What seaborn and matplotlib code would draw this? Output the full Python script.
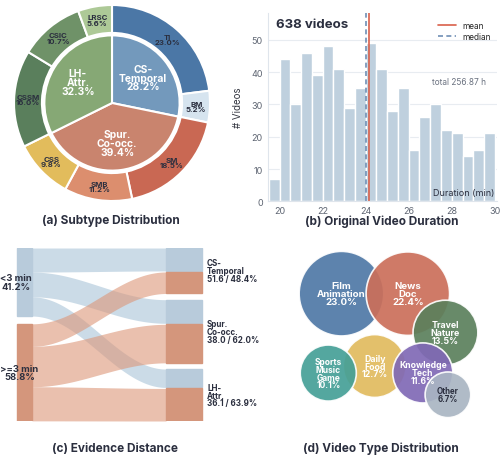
import numpy as np
import pandas as pd
import matplotlib
matplotlib.use("Agg")
import matplotlib.pyplot as plt
from matplotlib.patches import Circle, Rectangle
import seaborn as sns

# (a) subtype distribution
group_names = ["CS-\nTemporal", "Spur.\nCo-occ.", "LH-\nAttr."]
group_share = [28.2, 39.4, 32.3]
subtype_names = ["TI", "BM", "SM", "SMB", "CSS", "CSSM", "CSIC", "LRSC"]
subtype_share = [23.0, 5.2, 18.5, 11.2, 9.8, 16.0, 10.7, 5.6]

# (b) original video duration (minutes, 0.5 min bins from 19.5 to 30)
bin_start = 19.5
bin_width = 0.5
bin_counts = [7, 44, 30, 46, 39, 48, 41, 29, 35, 49, 41, 28, 35, 16, 26, 30, 22, 21, 14, 16, 21]
mean_dur = 24.16
median_dur = 24.0
total_hours = 256.87

# (c) evidence distance
dist_names = ["<3 min", ">=3 min"]
dist_share = [41.2, 58.8]
target_names = ["CS-\nTemporal", "Spur.\nCo-occ.", "LH-\nAttr."]
target_share = [28.2, 39.4, 32.3]
short_pct = [51.6, 38.0, 36.1]
long_pct = [48.4, 62.0, 63.9]

# (d) video types
type_names = ["Film\nAnimation", "News\nDoc", "Travel\nNature", "Daily\nFood",
              "Sports\nMusic\nGame", "Knowledge\nTech", "Other"]
type_share = [23.0, 22.4, 13.5, 12.7, 10.1, 11.6, 6.7]

sns.set_theme(style="white")
plt.rcParams["font.family"] = ["Inter", "DejaVu Sans"]
DARK = "#2b2f3f"

fig = plt.figure(figsize=(5, 4.56), dpi=100)


def box(x0, y0, x1, y1):
    return [x0 / 500, 1 - y1 / 456, (x1 - x0) / 500, (y1 - y0) / 456]


def title(x, y, s):
    fig.text(x / 500, 1 - y / 456, s, ha="center", va="center",
             fontsize=8.5, fontweight="bold", color=DARK)


# ---------- (a) ----------
ax = fig.add_axes(box(12, 4, 212, 204))
outer_cols = ["#4b77a6", "#d6e4ef", "#c96853", "#dc8e6e", "#e2bc5c",
              "#5a7f5c", "#6f9268", "#adc997"]
inner_cols = ["#7399bc", "#c9846e", "#86a875"]
ax.pie(subtype_share, radius=1.0, startangle=90, counterclock=False, colors=outer_cols,
       wedgeprops=dict(width=0.285, edgecolor="white", linewidth=1.5))
ax.pie(group_share, radius=0.69, startangle=90, counterclock=False, colors=inner_cols,
       wedgeprops=dict(edgecolor="white", linewidth=1.5))

cum = np.cumsum(subtype_share)
tot = cum[-1]
for name, v, c in zip(subtype_names, subtype_share, cum):
    th = np.deg2rad(90 - 360 * (c - v / 2) / tot)
    ax.text(0.86 * np.cos(th), 0.86 * np.sin(th), f"{name}\n{v:.1f}%", ha="center",
            va="center", fontsize=5.6, fontweight="bold", color=DARK, linespacing=0.85)
cum = np.cumsum(group_share)
tot = cum[-1]
for name, v, c in zip(group_names, group_share, cum):
    th = np.deg2rad(90 - 360 * (c - v / 2) / tot)
    ax.text(0.41 * np.cos(th), 0.41 * np.sin(th), f"{name}\n{v:.1f}%", ha="center",
            va="center", fontsize=7.4, fontweight="bold", color="white", linespacing=0.85)
ax.set_xlim(-100 / 98, 100 / 98)
ax.set_ylim(-100 / 98, 100 / 98)
ax.set_aspect("equal")
ax.axis("off")
title(110.5, 220.7, "(a) Subtype Distribution")

# ---------- (b) ----------
ax = fig.add_axes(box(267.7, 14, 497, 202.3))
ax.grid(axis="y", color="#e8ecf1", linewidth=0.8)
ax.set_axisbelow(True)
centers = bin_start + bin_width * (np.arange(len(bin_counts)) + 0.5)
hist_df = pd.DataFrame({"duration": centers, "videos": bin_counts})
sns.histplot(data=hist_df, x="duration", weights="videos", binwidth=bin_width,
             binrange=(bin_start, bin_start + bin_width * len(bin_counts)), color="#bfd0de",
             alpha=1, edgecolor="white", linewidth=1, ax=ax)
ax.axvline(median_dur, color="#6f8fb5", linewidth=1.2, linestyle=(0, (3, 2)), label="median")
ax.axvline(mean_dur, color="#d9604a", linewidth=1.2, label="mean")
h, l = ax.get_legend_handles_labels()
ax.legend(h[::-1], l[::-1], loc="upper right", frameon=False, fontsize=6,
          handlelength=2.2, borderaxespad=0.3, labelspacing=0.3, bbox_to_anchor=(1.0, 0.99))
ax.set_xlim(19.45, 30.1)
ax.set_ylim(0, 58.3)
ax.set_xticks(range(20, 31, 2))
ax.set_yticks(range(0, 51, 10))
ax.tick_params(labelsize=6.5, colors="#5f6673", length=2.5, width=0.8, pad=1)
ax.tick_params(color="#c9d2dc")
for s in ["top", "right"]:
    ax.spines[s].set_visible(False)
for s in ["left", "bottom"]:
    ax.spines[s].set_color("#dfe5ec")
    ax.spines[s].set_linewidth(0.8)
ax.set_xlabel("")
ax.set_ylabel("# Videos", fontsize=7, color="#333640", labelpad=6)
ax.text(19.85, 54.9, f"{sum(bin_counts)} videos", fontsize=9.5, fontweight="bold",
        color=DARK, ha="left", va="center")
ax.text(29.6, 37.2, f"total {total_hours:.2f} h", fontsize=6, color="#6b7280",
        ha="right", va="center")
ax.text(29.98, 2.7, "Duration (min)", fontsize=6.5, color=DARK, ha="right", va="center")
title(381.7, 221.5, "(b) Original Video Duration")

# ---------- (c) ----------
ax = fig.add_axes(box(0, 249, 250, 422))
ax.set_xlim(0, 250)
ax.set_ylim(422, 249)
ax.axis("off")
node_blue, node_org = "#b8cbdb", "#d4967c"
flow_blue, flow_org = "#a9c4d8", "#dc9678"
lx0, lx1, rx0, rx1 = 17, 32, 166, 202
span = 173
gap_l, gap_r, sub_gap = 7.7, 6.2, 1.0
sc_l = (span - gap_l) / sum(dist_share)
sc_r = (span - 2 * gap_r - 3 * sub_gap) / sum(target_share)

# left nodes
left_top = []
y = 249
for name, v, col in zip(dist_names, dist_share, [node_blue, node_org]):
    h_ = v * sc_l
    ax.add_patch(Rectangle((lx0, y), lx1 - lx0, h_, color=col, zorder=3))
    left_top.append(y)
    ax.text(0.5, y + h_ / 2, f"{name}\n{v:.1f}%", ha="left", va="center", fontsize=6.8,
            multialignment="center", fontweight="bold", color=DARK, linespacing=0.9,
            zorder=4)
    y += h_ + gap_l

# right nodes
right_parts = []
y = 249
for name, v, a, b in zip(target_names, target_share, short_pct, long_pct):
    hb = v * a / 100 * sc_r
    ho = v * b / 100 * sc_r
    ax.add_patch(Rectangle((rx0, y), rx1 - rx0, hb, color=node_blue, zorder=3))
    ax.add_patch(Rectangle((rx0, y + hb + sub_gap), rx1 - rx0, ho, color=node_org, zorder=3))
    right_parts.append((y, y + hb + sub_gap))
    ax.text(207, y + (hb + ho + sub_gap) / 2, f"{name}\n{a:.1f} / {b:.1f}%", ha="left",
            va="center", fontsize=5.8, fontweight="bold", color=DARK, linespacing=0.85)
    y += hb + ho + sub_gap + gap_r

xs = np.linspace(lx1, rx0, 120)
s = (1 - np.cos(np.pi * (xs - lx1) / (rx0 - lx1))) / 2
for k, (pcts, col) in enumerate([(short_pct, flow_blue), (long_pct, flow_org)]):
    yl = left_top[k]
    for j, (v, p) in enumerate(zip(target_share, pcts)):
        f = v * p / 100
        yr = right_parts[j][k]
        top = yl + (yr - yl) * s
        bot = (yl + f * sc_l) + ((yr + f * sc_r) - (yl + f * sc_l)) * s
        ax.fill_between(xs, top, bot, color=col, alpha=0.6, linewidth=0, zorder=2)
        yl += f * sc_l
title(114.5, 449, "(c) Evidence Distance")

# ---------- (d) ----------
ax = fig.add_axes(box(277, 235, 500, 436))
type_cols = ["#4f78a6", "#cb6f5a", "#5b805c", "#e1bb5e", "#45a097", "#8069b6", "#a9b5c3"]
radii = [42.3 * np.sqrt(v / max(type_share)) for v in type_share]
# layout: (anchor bubble, direction in degrees, centre distance / radius sum)
layout = [(None, 0, 0), (0, 0, 0.79), (1, -46, 0.73), (0, -65.3, 1.08),
          (3, 188.6, 0.79), (3, -8.2, 0.79), (5, -41, 0.63)]
centres = []
for i, (a, ang, f) in enumerate(layout):
    if a is None:
        centres.append((0.0, 0.0))
        continue
    d = f * (radii[a] + radii[i])
    t = np.deg2rad(ang)
    centres.append((centres[a][0] + d * np.cos(t), centres[a][1] + d * np.sin(t)))
for (cx, cy), r, col, name, v in zip(centres, radii, type_cols, type_names, type_share):
    ax.add_patch(Circle((cx, cy), r, facecolor=col, edgecolor="white", linewidth=1.2,
                        alpha=0.92))
    tc = DARK if name == "Other" else "white"
    ax.text(cx, cy, f"{name}\n{v:.1f}%", ha="center", va="center", color=tc,
            fontsize=4.2 + 0.066 * r, fontweight="bold", linespacing=0.85)
xmin = min(c[0] - r for c, r in zip(centres, radii))
xmax = max(c[0] + r for c, r in zip(centres, radii))
ymin = min(c[1] - r for c, r in zip(centres, radii))
ymax = max(c[1] + r for c, r in zip(centres, radii))
mx, my = (xmin + xmax) / 2, (ymin + ymax) / 2
ax.set_xlim(mx - 111.5, mx + 111.5)
ax.set_ylim(my - 100.5, my + 100.5)
ax.set_aspect("equal")
ax.axis("off")
title(381, 449, "(d) Video Type Distribution")

fig.savefig("out.png", dpi=100)
